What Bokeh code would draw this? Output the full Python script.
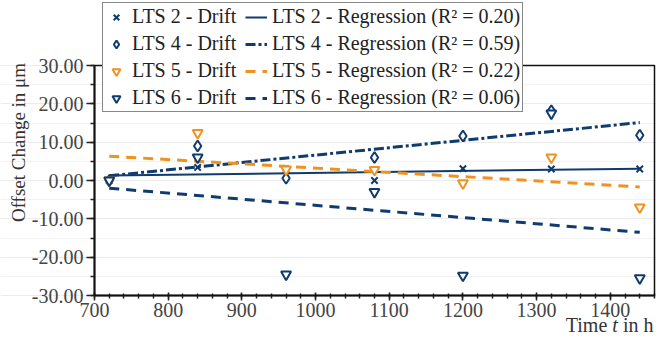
import numpy as np
from bokeh.plotting import figure
from bokeh.models import (Range1d, FixedTicker, NumeralTickFormatter, Legend,
                          LegendItem, Label, BoxAnnotation)
from bokeh.embed import file_html
from bokeh.resources import INLINE

# ---- data ----
hours = [720, 840, 960, 1080, 1200, 1320, 1440]
lts2_drift = [0.0, 3.4, 2.8, 0.0, 3.1, 3.0, 3.0]
lts4_drift = [0.0, 9.0, 0.6, 6.0, 11.6, 18.2, 11.8]
lts5_drift = [0.0, 12.4, 2.9, 2.8, -0.7, 6.0, -7.0]
lts6_drift = [0.0, 6.0, -24.5, -3.0, -24.8, 17.5, -25.5]
r2_values = ["0.20", "0.59", "0.22", "0.06"]
x_ticks = [700, 800, 900, 1000, 1100, 1200, 1300, 1400]
y_ticks = [-30, -20, -10, 0, 10, 20, 30]
x_box = (700, 1460)
y_box = (-30, 30)

NAVY = "#0f3b6e"
ORANGE = "#f0921f"
FONT = "Liberation Serif"

W, H = 656, 336
# plot box in canvas pixels
BL, BR, BT, BB = 94, 654, 65, 295
sx = (BR - BL) / (x_box[1] - x_box[0])
sy = (BB - BT) / (y_box[1] - y_box[0])
xr = Range1d(x_box[0] - BL / sx, x_box[1] + (W - BR) / sx)
yr = Range1d(y_box[0] - (H - BB) / sy, y_box[1] + BT / sy)

p = figure(width=W, height=H, output_backend="svg", toolbar_location=None,
           x_range=xr, y_range=yr,
           min_border_left=0, min_border_right=0, min_border_top=0,
           min_border_bottom=0)
p.background_fill_color = "white"
p.border_fill_color = "white"
p.outline_line_color = None

# grid
p.xgrid.grid_line_color = None
p.ygrid.grid_line_color = "#ececec"
p.ygrid.minor_grid_line_color = "#f2f2f2"
p.ygrid.ticker = FixedTicker(ticks=y_ticks, minor_ticks=list(range(-30, 31, 5)))
p.ygrid[0].bounds = x_box

# plot box
p.add_layout(BoxAnnotation(left=x_box[0], right=x_box[1], bottom=y_box[0], top=y_box[1],
                           fill_alpha=0, fill_color=None, line_color="#111111",
                           line_width=1.5, line_alpha=1.0))

# axes (fixed inside the full-canvas frame)
p.xaxis.ticker = FixedTicker(ticks=x_ticks, minor_ticks=list(range(700, 1461, 20)))
p.yaxis.ticker = FixedTicker(ticks=y_ticks, minor_ticks=list(range(-30, 31, 5)))
p.yaxis.formatter = NumeralTickFormatter(format="0.00")
p.xaxis.fixed_location = y_box[0]
p.yaxis.fixed_location = x_box[0]
p.xaxis.bounds = x_box
p.yaxis.bounds = y_box
for ax in (p.xaxis[0], p.yaxis[0]):
    ax.axis_line_color = "#222222"
    ax.axis_line_width = 2
    ax.major_tick_line_color = "#222222"
    ax.major_tick_line_width = 1.5
    ax.minor_tick_line_color = "#222222"
    ax.minor_tick_line_width = 1.5
    ax.major_label_text_font = FONT
    ax.major_label_text_font_size = "20px"
    ax.major_label_text_color = "#444444"
p.yaxis.major_tick_out = 8
p.yaxis.major_tick_in = 0
p.yaxis.minor_tick_out = 4
p.yaxis.minor_tick_in = 0
p.yaxis.major_label_standoff = 3
p.xaxis.major_tick_out = 5
p.xaxis.major_tick_in = 3
p.xaxis.minor_tick_out = 3
p.xaxis.minor_tick_in = 2
p.xaxis.major_label_standoff = 2

series = [
    ("LTS 2", lts2_drift, NAVY, "x", 9, "solid", 2),
    ("LTS 4", lts4_drift, NAVY, "diamond", 11, "10 3 3 3", 3),
    ("LTS 5", lts5_drift, ORANGE, "inverted_triangle", 10, "10 7", 3),
    ("LTS 6", lts6_drift, NAVY, "inverted_triangle", 10, "10 7", 3),
]

drift_items = []
reg_items = []
hx = np.array(hours, dtype=float)
for (name, vals, col, mk, sz, dash, lw), r2 in zip(series, r2_values):
    slope, icpt = np.polyfit(hx, np.array(vals), 1)
    xs = [hours[0], hours[-1]]
    ys = [slope * x + icpt for x in xs]
    rl = p.line(xs, ys, line_color=col, line_width=lw, line_dash=dash)
    reg_items.append(LegendItem(label=f"{name} - Regression (R\u00b2 = {r2})", renderers=[rl]))
for (name, vals, col, mk, sz, dash, lw) in series:
    rm = p.scatter(hours, vals, marker=mk, size=sz, line_color=col,
                   fill_color="white" if mk != "x" else None, line_width=2)
    drift_items.append(LegendItem(label=f"{name} - Drift", renderers=[rm]))

legend = Legend(items=drift_items + reg_items, location=(102, H - 112),
                orientation="vertical", nrows=4)
legend.label_text_font = FONT
legend.label_text_font_size = "20px"
legend.label_text_color = "#222222"
legend.label_height = 20
legend.glyph_height = 20
legend.glyph_width = 22
legend.label_standoff = 5
legend.label_width = 109
legend.spacing = 4
legend.padding = 2
legend.margin = 0
legend.border_line_color = "#111111"
legend.border_line_width = 1.5
legend.background_fill_color = "white"
legend.background_fill_alpha = 1.0
p.add_layout(legend, "center")

# axis titles as labels (screen units measured from the bottom-left)
p.add_layout(Label(x=18, y=H - 142, x_units="screen", y_units="screen",
                   text="Offset Change in \u03bcm", angle=np.pi / 2,
                   text_align="center", text_baseline="middle",
                   text_font=FONT, text_font_size="19px", text_color="#333333"))
X = 653
for txt, dx, style in [("in h", 0, "normal"), ("t", -35.6, "italic"), ("Time", -46.2, "normal")]:
    p.add_layout(Label(x=X + dx, y=H - 324, x_units="screen", y_units="screen",
                       text=txt, text_align="right", text_baseline="middle",
                       text_font=FONT, text_font_size="20px",
                       text_font_style=style, text_color="#333333"))

open("out.html", "w").write(file_html(p, INLINE))
